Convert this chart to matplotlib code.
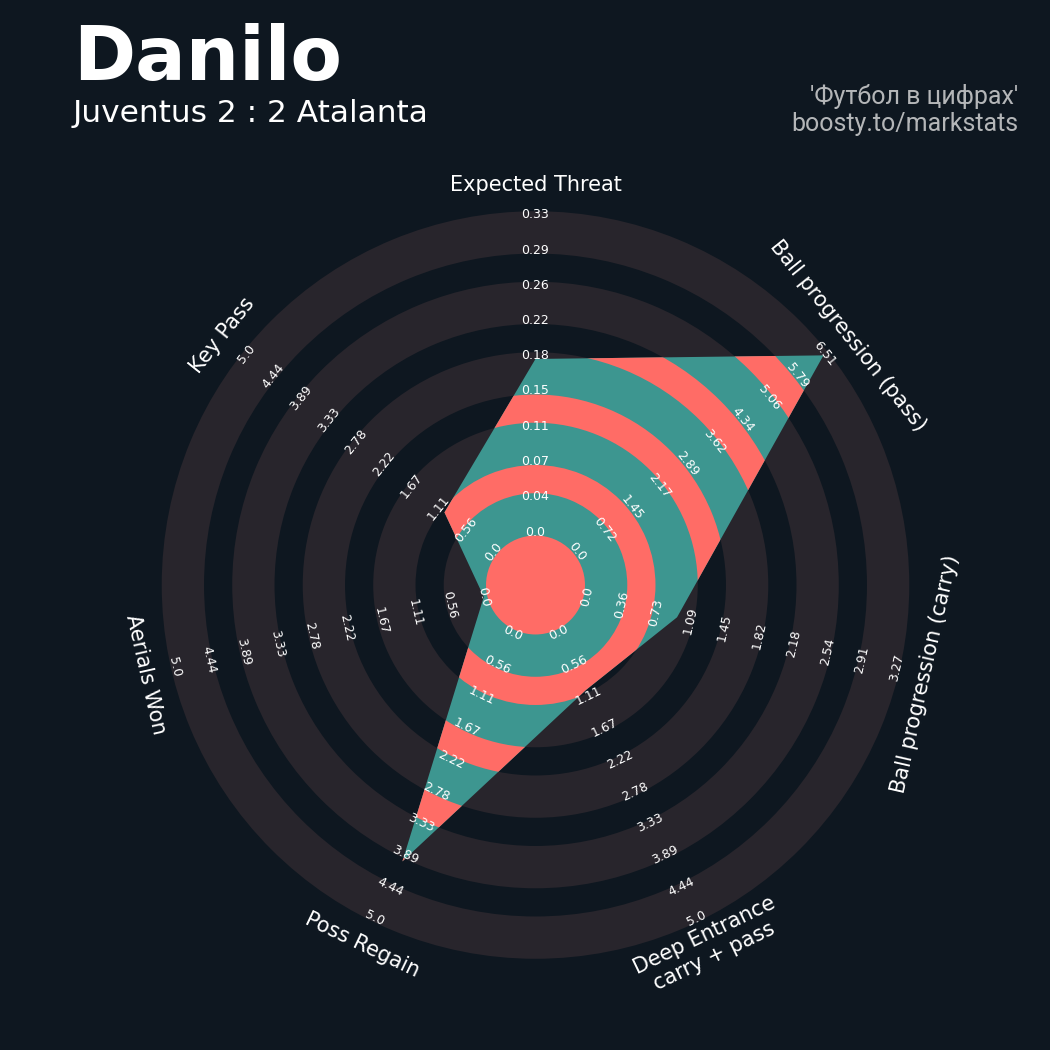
import matplotlib
matplotlib.use('Agg')
import matplotlib.pyplot as plt
import numpy as np
from matplotlib.patches import Circle, Wedge, Polygon

# data
params = ['Expected Threat', 'Ball progression (pass)', 'Ball progression (carry)',
          'Deep Entrance\ncarry + pass', 'Poss Regain', 'Aerials Won', 'Key Pass']
low = [0, 0, 0, 0, 0, 0, 0]
high = [0.33, 6.51, 3.27, 5.0, 5.0, 5.0, 5.0]
values = [0.18, 6.47, 0.95, 1.0, 4.0, 0.0, 1.0]

player = 'Danilo'
match = 'Juventus 2 : 2 Atalanta'
credit = ["'Футбол в цифрах'", 'boosty.to/markstats']

# style
BG = '#0e1720'; C_RING = '#28252c'; C_RADAR = '#3d9690'; C_RINGS = '#ff6c66'
C_CREDIT = '#b4b6b8'
N_LABELS = 10
R0 = 53.0       # radius of the minimum value (px)
STEP = 35.25    # radius between two range labels
R_PARAM = 400   # radius of the param labels
N_BANDS = 5

fig = plt.figure(figsize=(10.5, 10.5), dpi=100, facecolor=BG)
ax = fig.add_axes([0, 0, 1, 1])
ax.set_facecolor(BG)
ax.set_xlim(-535.5, 514.5); ax.set_ylim(-465, 585)
ax.set_aspect('equal')
ax.axis('off')

n = len(params)
ang = np.deg2rad(90 - np.arange(n) * 360 / n)

def rad(v, lo, hi):
    return R0 + (v - lo) / (hi - lo) * (N_LABELS - 1) * STEP

def tangent_rot(a):
    d = np.rad2deg(a)
    d = (d + 180) % 360 - 180
    return d - 90 if 0 < d < 180 else d + 90

# background rings
band_in = [R0 + (2 * k - 0.1) * STEP for k in range(N_BANDS)]
band_out = [R0 + (2 * k + 1.1) * STEP for k in range(N_BANDS)]
for ri, ro in zip(band_in, band_out):
    ax.add_patch(Wedge((0, 0), ro, 0, 360, width=ro - ri, facecolor=C_RING,
                       edgecolor='none', zorder=1))

# radar polygon
r_vals = [rad(v, lo, hi) for v, lo, hi in zip(values, low, high)]
verts = np.column_stack([np.array(r_vals) * np.cos(ang), np.array(r_vals) * np.sin(ang)])
poly = Polygon(verts, closed=True, facecolor=C_RADAR, edgecolor='none', zorder=2)
ax.add_patch(poly)

# rings inside the radar
rings = [Circle((0, 0), band_in[0], facecolor=C_RINGS, edgecolor='none', zorder=3)]
for k in range(N_BANDS - 1):
    ri, ro = band_out[k], band_in[k + 1]
    rings.append(Wedge((0, 0), ro, 0, 360, width=ro - ri, facecolor=C_RINGS,
                       edgecolor='none', zorder=3))
for p in rings:
    ax.add_patch(p)
    p.set_clip_path(poly)

# range labels
for a, lo, hi in zip(ang, low, high):
    labs = np.linspace(lo, hi, N_LABELS)
    rot = tangent_rot(a)
    for lab in labs:
        r = rad(lab, lo, hi)
        ax.text(r * np.cos(a), r * np.sin(a), str(round(float(lab), 2)), fontsize=9,
                color='white', ha='center', va='center', rotation=rot,
                rotation_mode='anchor', zorder=5)

# param labels
for a, p in zip(ang, params):
    ax.text(R_PARAM * np.cos(a), R_PARAM * np.sin(a), p, fontsize=15, color='white',
            ha='center', va='center', rotation=tangent_rot(a), rotation_mode='anchor',
            zorder=5)

# titles
fig.text(73 / 1050, 1 - 80 / 1050, player, fontsize=54, fontweight='bold',
         color='white', ha='left', va='baseline')
fig.text(73 / 1050, 1 - 122 / 1050, match, fontsize=22.5, color='white',
         ha='left', va='baseline')
fig.text(1018 / 1050, 1 - 104 / 1050, credit[0], fontsize=18, family='Roboto',
         color=C_CREDIT, ha='right', va='baseline')
fig.text(1018 / 1050, 1 - 131 / 1050, credit[1], fontsize=18, family='Roboto',
         color=C_CREDIT, ha='right', va='baseline')

fig.savefig('out.png', dpi=100, facecolor=BG)
